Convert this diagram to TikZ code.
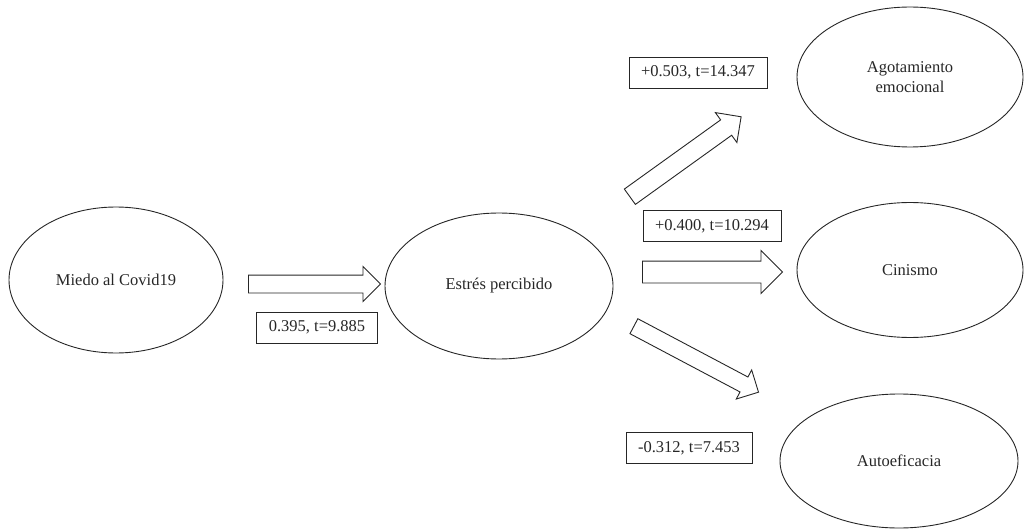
\documentclass[tikz,border=0pt]{standalone}
\usepackage{fontspec}
\setmainfont{Liberation Serif}
\usetikzlibrary{shapes.geometric,shapes.arrows}

\begin{document}
\begin{tikzpicture}
[x=1pt,y=-1pt,line width=0.9pt,
  every node/.style={font=\fontsize{16.5}{20}\selectfont,text=black!85},
  var node/.style={ellipse,draw=black!85,inner sep=0pt,align=center},
  coef node/.style={rectangle,draw=black!85,inner xsep=12pt,minimum height=31pt},
  flecha/.style={single arrow,draw=black!85,anchor=tail,inner sep=0pt}]

  \useasboundingbox (0,0) rectangle (1024,529);

  \node[var node,minimum width=214pt,minimum height=146pt] (miedo) at (116,280) {Miedo al Covid19};
  \node[var node,minimum width=228pt,minimum height=146pt] (estres) at (499,286) {Estrés percibido};

  \node[var node,minimum width=226pt,minimum height=140pt] (agotamiento) at (910,77) {Agotamiento\\emocional};
  \node[var node,minimum width=226pt,minimum height=135pt] (cinismo) at (910,270) {Cinismo};
  \node[var node,minimum width=238pt,minimum height=134pt] (autoeficacia) at (899,461) {Autoeficacia};

  \node[coef node] (c1) at (317,327.5) {0.395, t=9.885};
  \node[coef node] (c2) at (698,72.5) {+0.503, t=14.347};
  \node[coef node] (c3) at (712,226) {+0.400, t=10.294};
  \node[coef node] (c4) at (689,448) {-0.312, t=7.453};

  \foreach \name/\x/\y/\ang/\len/\ancho in {f1/248/284/0/132/8.5, f2/629.5/197/35.7/137/9, f3/642/272/0/140/10.5, f4/633.5/326/-27.9/141/8}
    \node[flecha,rotate=\ang,minimum height=\len pt,inner ysep=\ancho pt,single arrow head extend=\ancho pt] (\name) at (\x,\y) {};

\end{tikzpicture}
\end{document}
